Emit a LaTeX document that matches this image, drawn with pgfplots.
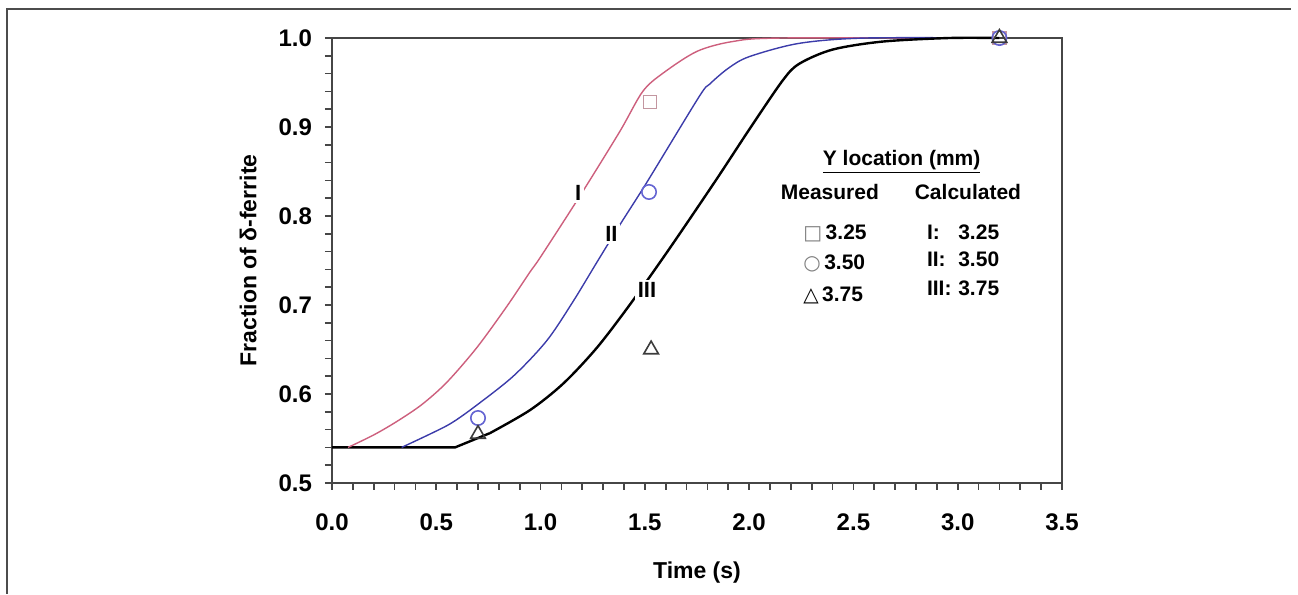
\documentclass[border=0pt]{standalone}
\usepackage{pgfplots}
\pgfplotsset{compat=1.18}
\usepackage{fontspec}
\setmainfont{Liberation Sans}
\newfontfamily\sym{DejaVu Sans}
\definecolor{pinkc}{RGB}{205,95,125}
\definecolor{bluec}{RGB}{60,60,170}
\definecolor{axc}{RGB}{70,70,70}
\definecolor{sqc}{RGB}{195,150,160}
\definecolor{circc}{RGB}{100,100,210}
\definecolor{tric}{RGB}{60,60,60}
\begin{document}
\begin{tikzpicture}
\path (-166pt,-55.5pt) rectangle (483pt,241.5pt);
\draw[gray!60!black, line width=1pt] (-162.5pt,-55.5pt) -- (-162.5pt,237pt) -- (479.5pt,237pt);
\begin{axis}[at={(0pt,0pt)}, anchor=south west, scale only axis,
  width=365pt, height=222.5pt,
  xmin=0, xmax=3.5, ymin=0.5, ymax=1.0,
  xtick={0,0.5,1,1.5,2,2.5,3,3.5},
  ytick={0.5,0.6,0.7,0.8,0.9,1.0},
  minor x tick num=4, minor y tick num=4,
  tick align=outside, major tick length=3.5pt, minor tick length=3.5pt,
  xtick pos=bottom, ytick pos=left,
  axis line style={axc, line width=1pt},
  every tick/.style={axc, line width=0.8pt},
  /pgf/number format/assume math mode=true,
  xticklabel={\pgfmathprintnumber[fixed,fixed zerofill,precision=1]{\tick}},
  yticklabel={\pgfmathprintnumber[fixed,fixed zerofill,precision=1]{\tick}},
  ticklabel style={font=\fontsize{12}{14}\selectfont\bfseries},
  xticklabel style={yshift=-8.5pt},
  yticklabel style={xshift=-3pt},
  xlabel={Time (s)}, ylabel={Fraction of δ-ferrite},
  label style={font=\fontsize{11.5}{13}\selectfont\bfseries},
  xlabel style={at={(axis description cs:0.5,-0.202)}, anchor=center},
  ylabel style={at={(axis description cs:-0.115,0.5)}, anchor=center},
  clip=false,
]
% flat initial segments
\addplot[pinkc, line width=0.7pt] coordinates {(0,0.54)(0.077,0.54)};
\addplot[bluec, line width=0.7pt] coordinates {(0,0.54)(0.334,0.54)};
\addplot[black, line width=1.2pt] coordinates {(0,0.54)(0.59,0.54)(0.757,0.556)};
% Curve I
\addplot[pinkc, line width=0.7pt, smooth, tension=0.5] coordinates {
(0.077,0.54)(0.2,0.554)(0.31,0.569)(0.43,0.588)(0.55,0.613)(0.694,0.652)
(0.837,0.698)(0.949,0.737)(1.0,0.754)(1.19,0.823)(1.38,0.895)(1.49,0.940)
(1.59,0.961)(1.75,0.985)(1.92,0.996)(2.16,1.0)(3.2,1.0)};
% Curve II
\addplot[bluec, line width=0.7pt, smooth, tension=0.5] coordinates {
(0.334,0.54)(0.47,0.555)(0.57,0.567)(0.68,0.585)(0.869,0.620)(1.03,0.660)(1.156,0.704)
(1.27,0.748)(1.38,0.790)(1.51,0.838)(1.76,0.934)(1.81,0.948)(1.9,0.966)(2.0,0.979)
(2.24,0.994)(2.56,1.0)(3.2,1.0)};
% Curve III
\addplot[black, line width=1.2pt, smooth, tension=0.5] coordinates {
(0.757,0.556)(0.95,0.582)(1.11,0.612)(1.27,0.652)(1.43,0.701)
(1.62,0.764)(1.84,0.840)(2.0,0.897)(2.16,0.952)(2.24,0.971)(2.40,0.987)(2.64,0.996)
(2.96,1.0)(3.2,1.0)};
% measured
\addplot[only marks, mark=square, mark size=3.3pt, sqc, line width=0.8pt] coordinates {
(1.525,0.928)(3.2,1.0)};
\addplot[only marks, mark=o, mark size=3.6pt, circc, line width=0.8pt] coordinates {
(0.7,0.573)(1.52,0.827)(3.2,1.0)};
\addplot[only marks, mark=triangle, mark size=4.2pt, tric, line width=0.8pt] coordinates {
(0.7,0.555)(1.53,0.650)(3.2,1.0)};
% curve labels
\node[fill=white, inner sep=1.2pt, font=\fontsize{11}{13}\selectfont\bfseries] at (axis cs:1.18,0.826) {I};
\node[fill=white, inner sep=1.2pt, font=\fontsize{11}{13}\selectfont\bfseries] at (axis cs:1.34,0.780) {II};
\node[fill=white, inner sep=1.2pt, font=\fontsize{11}{13}\selectfont\bfseries] at (axis cs:1.51,0.717) {III};
% legend text
\node[font=\fontsize{10.5}{12}\selectfont\bfseries] at (axis cs:2.731,0.861) {\underline{Y location (mm)}};
\node[font=\fontsize{10.5}{12}\selectfont\bfseries] at (axis cs:2.387,0.827) {Measured};
\node[font=\fontsize{10.5}{12}\selectfont\bfseries] at (axis cs:3.049,0.827) {Calculated};
\node[anchor=west, inner sep=0pt, font=\fontsize{10.5}{12}\selectfont\bfseries] at (axis cs:2.258,0.781) {{\sym\fontsize{10}{10}\selectfont\color{gray}□}\,3.25};
\node[anchor=west, inner sep=0pt, font=\fontsize{10.5}{12}\selectfont\bfseries] at (axis cs:2.258,0.747) {{\sym\fontsize{10}{10}\selectfont\color{gray}○}\,3.50};
\node[anchor=west, inner sep=0pt, font=\fontsize{10.5}{12}\selectfont\bfseries] at (axis cs:2.258,0.711) {{\sym\fontsize{10}{10}\selectfont\color{black}△}\,3.75};
\node[anchor=west, inner sep=0pt, font=\fontsize{10.5}{12}\selectfont\bfseries] at (axis cs:2.851,0.782) {I:};
\node[anchor=west, inner sep=0pt, font=\fontsize{10.5}{12}\selectfont\bfseries] at (axis cs:2.851,0.751) {II:};
\node[anchor=west, inner sep=0pt, font=\fontsize{10.5}{12}\selectfont\bfseries] at (axis cs:2.851,0.719) {III:};
\node[anchor=west, inner sep=0pt, font=\fontsize{10.5}{12}\selectfont\bfseries] at (axis cs:3.001,0.782) {3.25};
\node[anchor=west, inner sep=0pt, font=\fontsize{10.5}{12}\selectfont\bfseries] at (axis cs:3.001,0.751) {3.50};
\node[anchor=west, inner sep=0pt, font=\fontsize{10.5}{12}\selectfont\bfseries] at (axis cs:3.001,0.719) {3.75};
\end{axis}
\end{tikzpicture}
\end{document}
